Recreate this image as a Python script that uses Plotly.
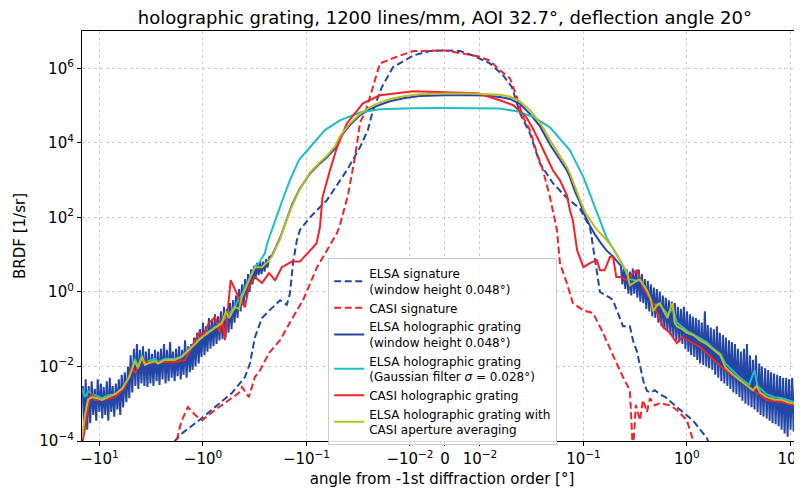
import numpy as np
import plotly.graph_objects as go

# ---------------- data (angle in degrees, BRDF in 1/sr) ----------------
elsa_sig_angle = [-1.95, -1.87, -1.60, -1.09, -0.766, -0.525, -0.393, -0.352, -0.315, -0.269, -0.225,
                  -0.180, -0.155, -0.1445, -0.135, -0.124, -0.1156, -0.0925, -0.0634, -0.0406, -0.0304,
                  -0.0255, -0.0228, -0.0187, -0.0146, -0.0091, -0.0043, 0.0, 0.0043, 0.008, 0.0125,
                  0.0167, 0.0204, 0.0244, 0.0304, 0.038, 0.0507, 0.0693, 0.0925, 0.1156, 0.124, 0.135,
                  0.1445, 0.18, 0.193, 0.241, 0.281, 0.301, 0.329, 0.38, 0.411, 0.45, 0.49, 0.548, 0.62,
                  0.80, 1.14, 1.56, 1.75]
elsa_sig_brdf = [5e-5, 1.0e-4, 1.6e-4, 3.6e-4, 8.1e-4, 1.95e-3, 5.2e-3, 0.012, 0.06, 0.2, 0.33,
                 0.6, 0.45, 0.9, 5.9, 24, 46, 100, 290, 1860, 7600,
                 2.2e4, 7.4e4, 3.1e5, 1.07e6, 2.2e6, 2.9e6, 3.0e6, 2.9e6, 2.2e6, 1.35e6,
                 6.5e5, 3.1e5, 6.2e4, 1.8e4, 2.8e3, 830, 330, 170, 55, 16, 3.2,
                 1.0, 0.7, 0.6, 0.12, 0.12, 0.05, 0.025, 0.004, 2.2e-3, 2.0e-3, 2.3e-3, 1.8e-3, 1.5e-3,
                 8.1e-4, 3.6e-4, 1.2e-4, 5e-5]

casi_sig_angle = [-1.95, -1.71, -1.60, -1.40, -1.19, -1.02, -0.766, -0.561, -0.449, -0.42, -0.36,
                  -0.315, -0.281, -0.230, -0.180, -0.135, -0.108, -0.079, -0.0634, -0.0507, -0.0475,
                  -0.0397, -0.034, -0.0304, -0.0261, -0.0228, -0.0195, -0.014, -0.0091, 0.0, 0.0093,
                  0.0125, 0.0156, 0.0195, 0.0228, 0.0261, 0.0304, 0.0356, 0.0406, 0.0475, 0.0555,
                  0.0593, 0.0693, 0.079, 0.1, 0.124, 0.155, 0.193, 0.241, 0.281, 0.301, 0.321, 0.352,
                  0.376, 0.411, 0.44, 0.491, 0.548, 0.686, 0.80, 1.0, 1.14, 1.25]
casi_sig_brdf = [3e-5, 1.9e-4, 3.6e-4, 8.1e-4, 5e-4, 3.6e-4, 6.8e-4, 1.26e-3, 1.95e-3, 2.8e-3, 1.5e-3,
                 5.2e-3, 7.9e-3, 0.023, 0.051, 0.21, 0.6, 4.6, 13, 38, 62,
                 400, 4100, 3.4e4, 8.9e4, 3.1e5, 1.35e6, 1.95e6, 2.9e6, 3.0e6, 2.1e6,
                 1.6e6, 8.9e5, 5.4e5, 1.66e5, 4.9e4, 2.2e4, 5.2e3, 1.86e3, 350, 46,
                 5.9, 1.7, 0.5, 0.32, 0.27, 0.079, 0.02, 5.2e-3, 2.3e-3, 5e-5, 9.3e-4, 3.6e-4,
                 1.26e-3, 6e-4, 1.4e-3, 9e-4, 1.05e-3, 9e-4, 6.8e-4, 3.6e-4, 1.1e-4, 4e-5]

# ELSA holographic grating (window height 0.048 deg): noisy tails + smooth core
tail_mag = [14.5, 14.04, 13.6, 13.14, 12.7, 12.29, 11.9, 11.49, 11.1, 10.74, 10.4, 10.04, 9.7, 9.40,
            9.1, 8.79, 8.5, 8.22, 7.95, 7.70, 7.45, 7.20, 6.95, 6.72, 6.5, 6.30, 6.1, 5.90, 5.7, 5.50,
            5.3, 5.15, 5.0, 4.82, 4.65, 4.50, 4.35, 4.21, 4.07, 3.93, 3.8, 3.68, 3.56, 3.44, 3.33,
            3.22, 3.11, 3.01, 2.91, 2.81, 2.72, 2.63, 2.55, 2.46, 2.38, 2.30, 2.23, 2.15, 2.08, 2.01,
            1.95, 1.88, 1.82, 1.76, 1.70, 1.64, 1.59, 1.54, 1.49, 1.44, 1.39, 1.34, 1.30, 1.26, 1.22,
            1.18, 1.14, 1.10, 1.07, 1.034, 1.0, 0.967, 0.935, 0.905, 0.875, 0.846, 0.818, 0.791,
            0.765, 0.740, 0.716, 0.693, 0.67, 0.648, 0.626, 0.606, 0.586, 0.567, 0.548, 0.530,
            0.512, 0.495, 0.479, 0.463, 0.448, 0.433, 0.419, 0.405, 0.392, 0.379, 0.367, 0.355,
            0.343, 0.332, 0.321, 0.310, 0.30, 0.290, 0.281, 0.272, 0.263, 0.254, 0.246, 0.238, 0.23]
elsa_left_tail = [3e-3, 1.5e-4, 4.5e-3, 2e-4, 3e-3, 3e-4, 4e-3, 5e-4, 2.5e-3, 3.5e-4,
                  4.5e-3, 6e-4, 3.5e-3, 4e-4, 2.8e-3, 5e-4, 4e-3, 3.5e-4, 5e-3, 6e-4,
                  3e-3, 4.5e-4, 3.5e-3, 7e-4, 4.5e-3, 5e-4, 6e-3, 8e-4, 7e-3, 1.1e-3,
                  0.01, 1.4e-3, 0.02, 2e-3, 0.03, 3e-3, 0.04, 2.5e-3, 0.028, 3.5e-3,
                  0.035, 3e-3, 0.025, 2.8e-3, 0.03, 3.5e-3, 0.022, 3e-3, 0.028, 4e-3,
                  0.025, 3.2e-3, 0.03, 4.5e-3, 0.04, 3.5e-3, 0.028, 4e-3, 0.045, 5e-3,
                  0.025, 4e-3, 0.03, 5.5e-3, 0.035, 4.5e-3, 0.028, 6e-3, 0.05, 5e-3,
                  0.035, 7e-3, 0.04, 8e-3, 0.06, 0.01, 0.08, 0.012, 0.1, 0.018,
                  0.15, 0.02, 0.12, 0.025, 0.2, 0.03, 0.18, 0.035, 0.25, 0.04,
                  0.22, 0.05, 0.3, 0.055, 0.4, 0.06, 0.35, 0.08, 0.5, 0.1,
                  0.6, 0.15, 0.8, 0.2, 1.2, 0.3, 1.6, 0.45, 2.2, 0.7,
                  3.0, 1.0, 4.0, 1.6, 5.0, 2.2, 6.0, 2.8, 6.5, 3.0,
                  6.5, 3.5, 7.5, 4.5, 8.5]
elsa_core_angle = [-0.215, -0.180, -0.161, -0.148, -0.138, -0.1156, -0.0925, -0.0741, -0.0634,
                   -0.0531, -0.0475, -0.038, -0.0304, -0.0244, -0.0195, -0.0156, -0.0112, -0.0072,
                   0.0, 0.0072, 0.0112, 0.0156, 0.0195, 0.0244, 0.0304, 0.038, 0.0475, 0.0593,
                   0.0693, 0.0741, 0.0828, 0.0925, 0.1035, 0.1156, 0.129, 0.148, 0.167, 0.193, 0.215]
elsa_core_brdf = [9.5, 28, 70, 130, 220, 600, 1.5e3, 2.8e3, 4.1e3,
                  7e3, 1.4e4, 3.0e4, 5.5e4, 8.0e4, 1.05e5, 1.3e5, 1.6e5, 1.8e5,
                  1.9e5, 1.9e5, 1.85e5, 1.7e5, 1.5e5, 1.1e5, 6.0e4, 2.8e4, 9e3, 3.5e3,
                  1.8e3, 1.2e3, 500, 250, 110, 60, 35, 20, 13, 9, 6]
elsa_right_tail = [5.0, 1.6, 4.5, 1.2, 4.0, 0.9, 3.5, 0.8, 4.2, 0.9,
                   3.8, 0.7, 4.0, 0.55, 3.0, 0.5, 2.2, 0.35, 2.0, 0.3,
                   1.6, 0.22, 1.3, 0.2, 1.2, 0.15, 1.0, 0.12, 0.8, 0.1,
                   0.7, 0.09, 0.6, 0.07, 0.55, 0.06, 0.5, 0.05, 0.4, 0.045,
                   0.35, 0.04, 0.4, 0.03, 0.3, 0.025, 0.25, 0.02, 0.22, 0.018,
                   0.2, 0.015, 0.18, 0.012, 0.15, 0.011, 0.3, 0.01, 0.13, 0.009,
                   0.11, 0.008, 0.1, 0.006, 0.12, 0.005, 0.08, 0.004, 0.07, 0.0035,
                   0.06, 0.003, 0.05, 0.0025, 0.045, 0.002, 0.04, 0.0018, 0.03, 0.0015,
                   0.025, 0.0012, 0.03, 0.001, 0.04, 9e-4, 0.02, 8e-4, 0.015, 7e-4,
                   0.02, 6e-4, 0.012, 5e-4, 0.01, 4.5e-4, 0.009, 4e-4, 0.008, 3.5e-4,
                   0.007, 3e-4, 0.0065, 2.8e-4, 0.006, 2.5e-4, 0.0055, 2e-4, 0.005, 1.6e-4,
                   0.005, 1.3e-4, 0.0045, 2e-4, 0.005, 1.8e-4, 0.0042, 2.2e-4, 0.0045, 2.5e-4,
                   0.004, 2e-4, 0.0045, 3e-4, 0.004]

gauss_angle = [-14.8, -13.8, -12.9, -11.8, -10.4, -9.46, -8.28, -7.08, -6.07, -5.19, -4.54, -4.25,
               -3.89, -3.64, -3.33, -2.91, -2.72, -2.33, -1.87, -1.60, -1.28, -1.02, -0.818, -0.656,
               -0.561, -0.491, -0.42, -0.36, -0.315, -0.288, -0.252, -0.24, -0.21, -0.19, -0.17,
               -0.1445, -0.118, -0.0925, -0.0663, -0.0475, -0.0304, -0.0195, -0.0091, 0.0, 0.0091,
               0.0156, 0.0228, 0.0325, 0.0475, 0.0741, 0.1, 0.124, 0.1445, 0.167, 0.225, 0.281,
               0.329, 0.352, 0.411, 0.47, 0.548, 0.65, 0.73, 0.80, 1.0, 1.34, 1.55, 1.8, 2.1, 2.35,
               3.25, 4.0, 4.5, 4.8, 5.9, 7.0, 8.3, 11.0, 14.8]
gauss_brdf = [2.5e-3, 1.5e-3, 2.2e-3, 1.8e-3, 1.6e-3, 1.4e-3, 1.7e-3, 1.8e-3, 2.5e-3, 5e-3, 0.016, 0.01,
              0.02, 0.012, 0.014, 0.016, 0.013, 0.016, 0.016, 0.019, 0.035, 0.065, 0.1, 0.16,
              0.25, 0.42, 0.85, 2.2, 4.8, 6, 11, 20, 60, 130, 300,
              990, 3500, 7600, 2.2e4, 4e4, 6.5e4, 8e4, 8.5e4, 8.6e4, 8.5e4,
              8.3e4, 7e4, 5.0e4, 2.6e4, 6.3e3, 1.2e3, 240, 84, 29, 7.1, 2.2,
              2.0, 2.2, 1.1, 0.45, 0.45, 0.25, 0.35, 0.15, 0.09, 0.055, 0.045, 0.03, 0.022, 0.012,
              0.005, 0.0032, 0.008, 0.003, 0.0018, 0.0015, 0.0014, 0.0011, 9e-4]

casi_holo_angle = [-15.0, -14.5, -12.4, -11.8, -11.1, -9.46, -7.08, -5.68, -4.85, -4.54, -3.89, -3.33,
                   -2.49, -1.87, -1.49, -1.28, -1.09, -1.02, -0.875, -0.766, -0.69, -0.656, -0.614,
                   -0.54, -0.491, -0.44, -0.393, -0.36, -0.315, -0.269, -0.230, -0.201, -0.173,
                   -0.138, -0.1156, -0.08, -0.0741, -0.07, -0.0593, -0.0507, -0.0406, -0.0285,
                   -0.0195, -0.0091, 0.0, 0.0093, 0.0156, 0.021, 0.028, 0.032, 0.038, 0.044, 0.0507,
                   0.0593, 0.0693, 0.0741, 0.079, 0.087, 0.1, 0.1156, 0.135, 0.1445, 0.16, 0.18,
                   0.193, 0.208, 0.225, 0.262, 0.301, 0.329, 0.376, 0.47, 0.59, 0.686, 0.80, 0.90,
                   1.34, 1.83, 2.0, 2.16, 3.25, 4.35, 5.9, 8.3, 12.4, 14.8]
casi_holo_brdf = [5e-5, 1.0e-4, 1.5e-3, 1.9e-3, 1.26e-3, 1.26e-3, 1.5e-3, 2.8e-3, 9.6e-3, 6.6e-3, 0.015, 0.0123,
                  0.013, 0.013, 0.015, 0.033, 0.079, 0.061, 0.146, 0.21, 0.079, 0.21, 0.051,
                  2.07, 1.12, 0.6, 0.39, 1.35, 2.5, 1.72, 3.2, 2.07, 4.6,
                  6.5, 6.5, 20, 55, 350, 1.84e3, 7.6e3, 3.35e4, 1.15e5,
                  1.89e5, 2.4e5, 2.27e5, 2.14e5, 1.39e5, 1.02e5, 4.9e4, 2.6e4, 1.0e4, 4.1e3, 1.84e3,
                  990, 390, 156, 84, 13, 4.6, 5.9, 7.1, 3.8, 3.8, 8.6,
                  9.0, 2.5, 2.5, 2.07, 3.2, 3.8, 1.35, 0.5, 0.114, 0.079, 0.042, 0.061,
                  0.033, 0.0149, 0.012, 0.0096, 0.0043, 0.0023, 0.00126, 1.1e-3, 8.2e-4, 8e-4]

avg_angle = [-14.8, -13.8, -12.9, -11.8, -10.4, -9.46, -8.28, -7.08, -6.07, -5.19, -4.54, -4.25, -3.89,
             -3.64, -3.33, -2.91, -2.72, -2.33, -1.87, -1.60, -1.28, -1.02, -0.818, -0.656, -0.6,
             -0.561, -0.491, -0.449, -0.42, -0.36, -0.315, -0.269, -0.23, -0.215, -0.180, -0.161,
             -0.148, -0.138, -0.1156, -0.0925, -0.0741, -0.0634, -0.0531, -0.0475, -0.038, -0.0304,
             -0.0244, -0.0195, -0.0156, -0.0112, -0.0072, 0.0, 0.0072, 0.0112, 0.0156, 0.0195,
             0.0244, 0.0304, 0.038, 0.0475, 0.0593, 0.0693, 0.0741, 0.0828, 0.0925, 0.1035, 0.129,
             0.1445, 0.167, 0.193, 0.225, 0.262, 0.281, 0.301, 0.329, 0.352, 0.376, 0.411, 0.45,
             0.47, 0.52, 0.548, 0.62, 0.65, 0.69, 0.73, 0.76, 0.80, 0.9, 1.0, 1.15, 1.34, 1.55, 1.8,
             2.1, 2.35, 2.8, 3.25, 3.6, 4.0, 4.35, 4.7, 5.1, 5.9, 7.0, 8.3, 9.5, 11.0, 12.4, 14.8]
avg_brdf = [1.2e-4, 5e-4, 1.3e-3, 1.5e-3, 1.4e-3, 1.26e-3, 1.5e-3, 1.8e-3, 2.5e-3, 5e-3, 0.014, 0.009, 0.018,
            0.011, 0.0123, 0.014, 0.012, 0.015, 0.015, 0.018, 0.033, 0.061, 0.095, 0.146, 0.3,
            0.2, 0.39, 0.35, 0.75, 2.07, 4.6, 4.6, 7, 9, 26, 65,
            120, 200, 580, 1.6e3, 3.0e3, 4.5e3, 8e3, 1.5e4, 3.3e4, 6.0e4,
            9e4, 1.2e5, 1.5e5, 1.8e5, 2.0e5, 2.1e5, 2.1e5, 2.05e5, 1.95e5, 1.75e5,
            1.3e5, 7.5e4, 3.5e4, 1.2e4, 4.5e3, 2.2e3, 1.5e3, 650, 300, 140, 55,
            38, 25, 15, 7, 3.5, 1.5, 1.7, 2.0, 2.1, 1.6, 1.1, 0.6,
            0.3, 0.45, 0.5, 0.25, 0.2, 0.35, 0.5, 0.15, 0.12, 0.1, 0.08, 0.07, 0.05, 0.04, 0.028,
            0.02, 0.0096, 0.006, 0.0043, 0.0035, 0.0028, 0.0023, 0.003, 0.002, 0.0015, 0.0013, 0.00126,
            0.0011, 0.001, 8.2e-4, 7e-4]

x_tick_values = [-10, -1, -0.1, -0.01, 0, 0.01, 0.1, 1, 10]
x_tick_labels = ["−10<sup>1</sup>", "−10<sup>0</sup>", "−10<sup>−1</sup>", "−10<sup>−2</sup>", "0",
                 "10<sup>−2</sup>", "10<sup>−1</sup>", "10<sup>0</sup>", "10<sup>1</sup>"]
y_tick_values = [1e-4, 1e-2, 1, 1e2, 1e4, 1e6]
y_tick_labels = ["10<sup>−4</sup>", "10<sup>−2</sup>", "10<sup>0</sup>", "10<sup>2</sup>",
                 "10<sup>4</sup>", "10<sup>6</sup>"]

# ---------------- symmetric-log axis scale ----------------
LINTHRESH = 0.01
LINSCALE = 0.338  # width of the linear half-region in decades


def symlog(v):
    v = np.asarray(v, dtype=float)
    a = np.abs(v)
    out = np.where(a <= LINTHRESH, v / LINTHRESH * LINSCALE,
                   np.sign(v) * (LINSCALE + np.log10(np.maximum(a, 1e-300) / LINTHRESH)))
    return out


elsa_holo_angle = [-m for m in tail_mag] + elsa_core_angle + tail_mag[::-1]
elsa_holo_brdf = elsa_left_tail + elsa_core_brdf + elsa_right_tail

BLUE = "#2446a6"
RED = "#f0232a"
CYAN = "#1dbec8"
OLIVE = "#bcbd22"

fig = go.Figure()
series = [
    ("ELSA signature<br>(window height 0.048°)", elsa_sig_angle, elsa_sig_brdf, BLUE, "7px,3.5px"),
    ("CASI signature", casi_sig_angle, casi_sig_brdf, RED, "7px,3.5px"),
    ("ELSA holographic grating<br>(window height 0.048°)", elsa_holo_angle, elsa_holo_brdf, BLUE, "solid"),
    ("ELSA holographic grating<br>(Gaussian filter <i>σ</i> = 0.028°)", gauss_angle, gauss_brdf, CYAN, "solid"),
    ("CASI holographic grating", casi_holo_angle, casi_holo_brdf, RED, "solid"),
    ("ELSA holographic grating with<br>CASI aperture averaging", avg_angle, avg_brdf, OLIVE, "solid"),
]
for name, xa, ya, col, dash in series:
    fig.add_trace(go.Scatter(x=symlog(xa), y=ya, mode="lines", name=name,
                             line=dict(color=col, width=2, dash=dash)))

# the page body adds an 8 px offset, so the figure is sized to end at the window edge
FONT = "DejaVu Sans"
fig.update_layout(
    width=794, height=483,
    margin=dict(l=74, r=0, t=23, b=50, autoexpand=False),
    paper_bgcolor="white", plot_bgcolor="white",
    font=dict(family=FONT, size=15, color="black"),
    title=dict(text="holographic grating, 1200 lines/mm, AOI 32.7°, deflection angle 20°",
               x=0.504, xref="paper", xanchor="center", y=1 - 10 / 483, yanchor="middle",
               font=dict(size=18, family=FONT)),
    legend=dict(x=0.342, y=0.446, xanchor="left", yanchor="top",
                bgcolor="rgba(255,255,255,0.85)", bordercolor="#cccccc", borderwidth=1,
                font=dict(size=12, family=FONT), tracegroupgap=0, itemwidth=30),
    showlegend=True,
)
fig.update_xaxes(
    range=[-3.507, 3.45], tickmode="array", tickvals=symlog(x_tick_values), ticktext=x_tick_labels,
    showline=True, linecolor="black", linewidth=1.2, mirror=True, automargin=False,
    ticklabeloverflow="allow",
    ticks="outside", ticklen=4, tickcolor="black", zeroline=False,
    showgrid=True, gridcolor="#cfcfcf", griddash="dot", gridwidth=1,
    title=dict(text="angle from -1st diffraction order [°]", font=dict(size=15), standoff=6),
    tickfont=dict(size=15),
)
fig.update_yaxes(
    type="log", range=[-4, 7], tickmode="array", tickvals=y_tick_values, ticktext=y_tick_labels,
    showline=True, linecolor="black", linewidth=1.2, mirror=False, automargin=False,
    ticks="outside", ticklen=4, tickcolor="black", zeroline=False,
    showgrid=True, gridcolor="#cfcfcf", griddash="dot", gridwidth=1,
    title=dict(text="BRDF [1/sr]", font=dict(size=15), standoff=10),
    tickfont=dict(size=15),
)
fig.write_html("out.html")
